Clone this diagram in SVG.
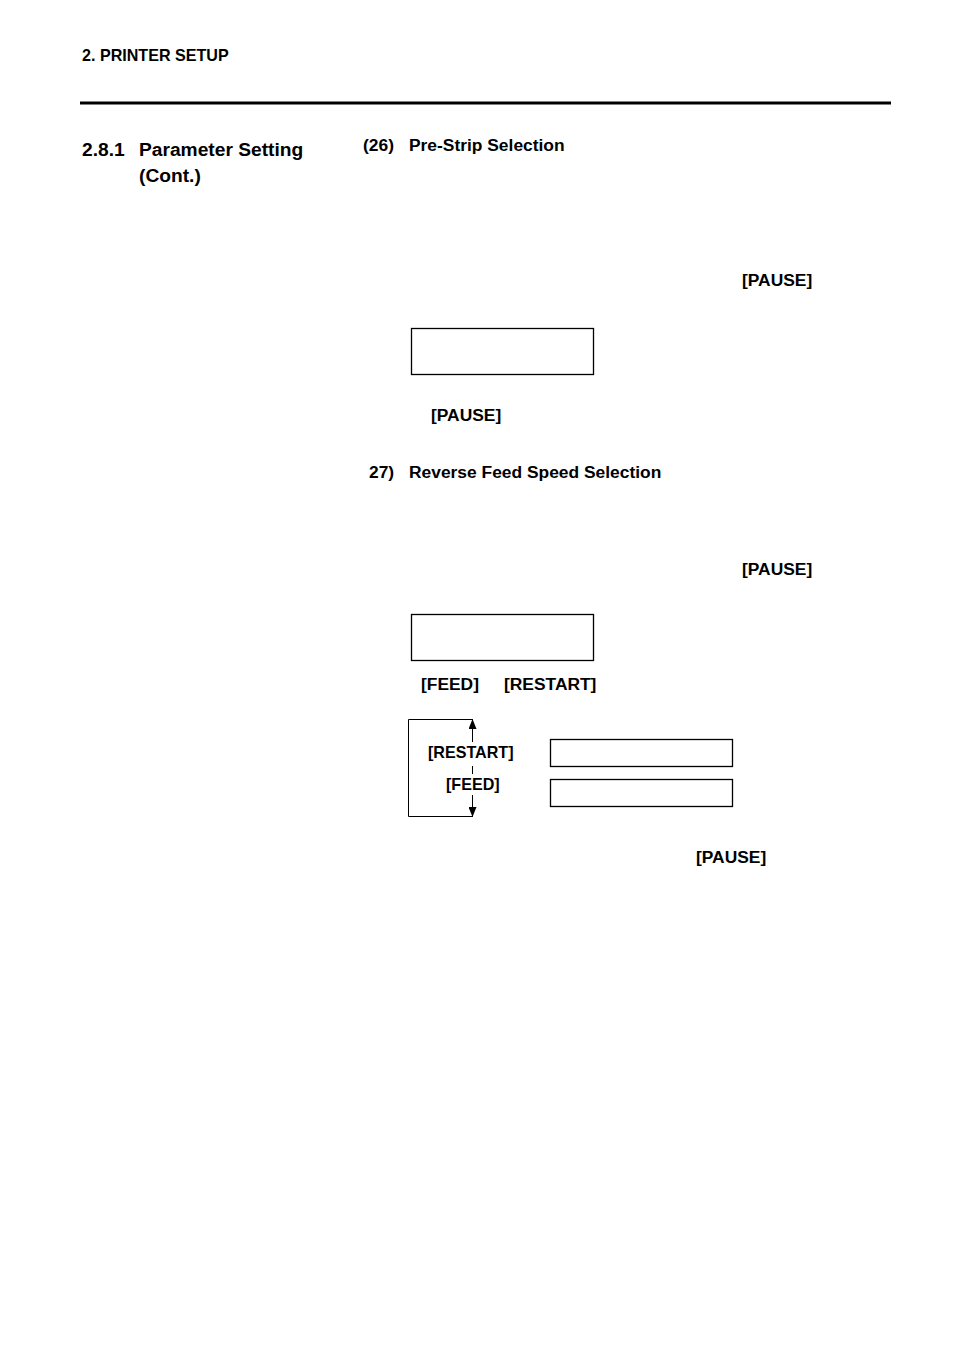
<svg xmlns="http://www.w3.org/2000/svg" width="954" height="1351" viewBox="0 0 954 1351">
<style>
text{font-family:"Liberation Sans",Arial,sans-serif;font-weight:bold;fill:#000}
.s{font-size:17.4px}.m{font-size:19.2px}.x{font-size:16.1px}.h{font-size:16.1px}
.box{fill:#fff;stroke:#000;stroke-width:1.3}
.ln{fill:none;stroke:#000;stroke-width:1}
</style>
<defs><marker id="ah" markerWidth="10" markerHeight="8" refX="10" refY="4" orient="auto" markerUnits="userSpaceOnUse"><path d="M0,0 L10,4 L0,8 Z"/></marker></defs>
<rect width="954" height="1351" fill="#fff"/>
<text x="82" y="61" class="h">2. PRINTER SETUP</text>
<line x1="80" y1="103" x2="891" y2="103" stroke="#000" stroke-width="3"/>
<text x="82" y="156" class="m">2.8.1</text>
<text x="139" y="156" class="m">Parameter Setting</text>
<text x="139" y="182" class="m">(Cont.)</text>
<text x="363" y="151" class="s">(26)</text>
<text x="409" y="151" class="s">Pre-Strip Selection</text>
<text x="742" y="286" class="s">[PAUSE]</text>
<g id="box1"><rect class="box" x="411.5" y="328.5" width="182" height="46"/></g>
<text x="431" y="421" class="s">[PAUSE]</text>
<text x="369" y="478" class="s">27)</text>
<text x="409" y="478" class="s">Reverse Feed Speed Selection</text>
<text x="742" y="575" class="s">[PAUSE]</text>
<g id="box2"><rect class="box" x="411.5" y="614.5" width="182" height="46"/></g>
<text x="421" y="690" class="s">[FEED]</text>
<text x="504" y="690" class="s">[RESTART]</text>
<g id="box3"><rect class="box" x="550.5" y="739.5" width="182" height="27"/></g>
<g id="box4"><rect class="box" x="550.5" y="779.5" width="182" height="27"/></g>
<g id="connectors">
<polyline class="ln" points="472,719.5 408.5,719.5 408.5,816.5 472,816.5"/>
<line class="ln" x1="472.5" y1="742" x2="472.5" y2="719" marker-end="url(#ah)"/>
<line class="ln" x1="472.5" y1="766" x2="472.5" y2="774"/>
<line class="ln" x1="472.5" y1="795" x2="472.5" y2="817" marker-end="url(#ah)"/>
</g>
<text x="428" y="758" class="x">[RESTART]</text>
<text x="446" y="790" class="x">[FEED]</text>
<text x="696" y="863" class="s">[PAUSE]</text>
</svg>
